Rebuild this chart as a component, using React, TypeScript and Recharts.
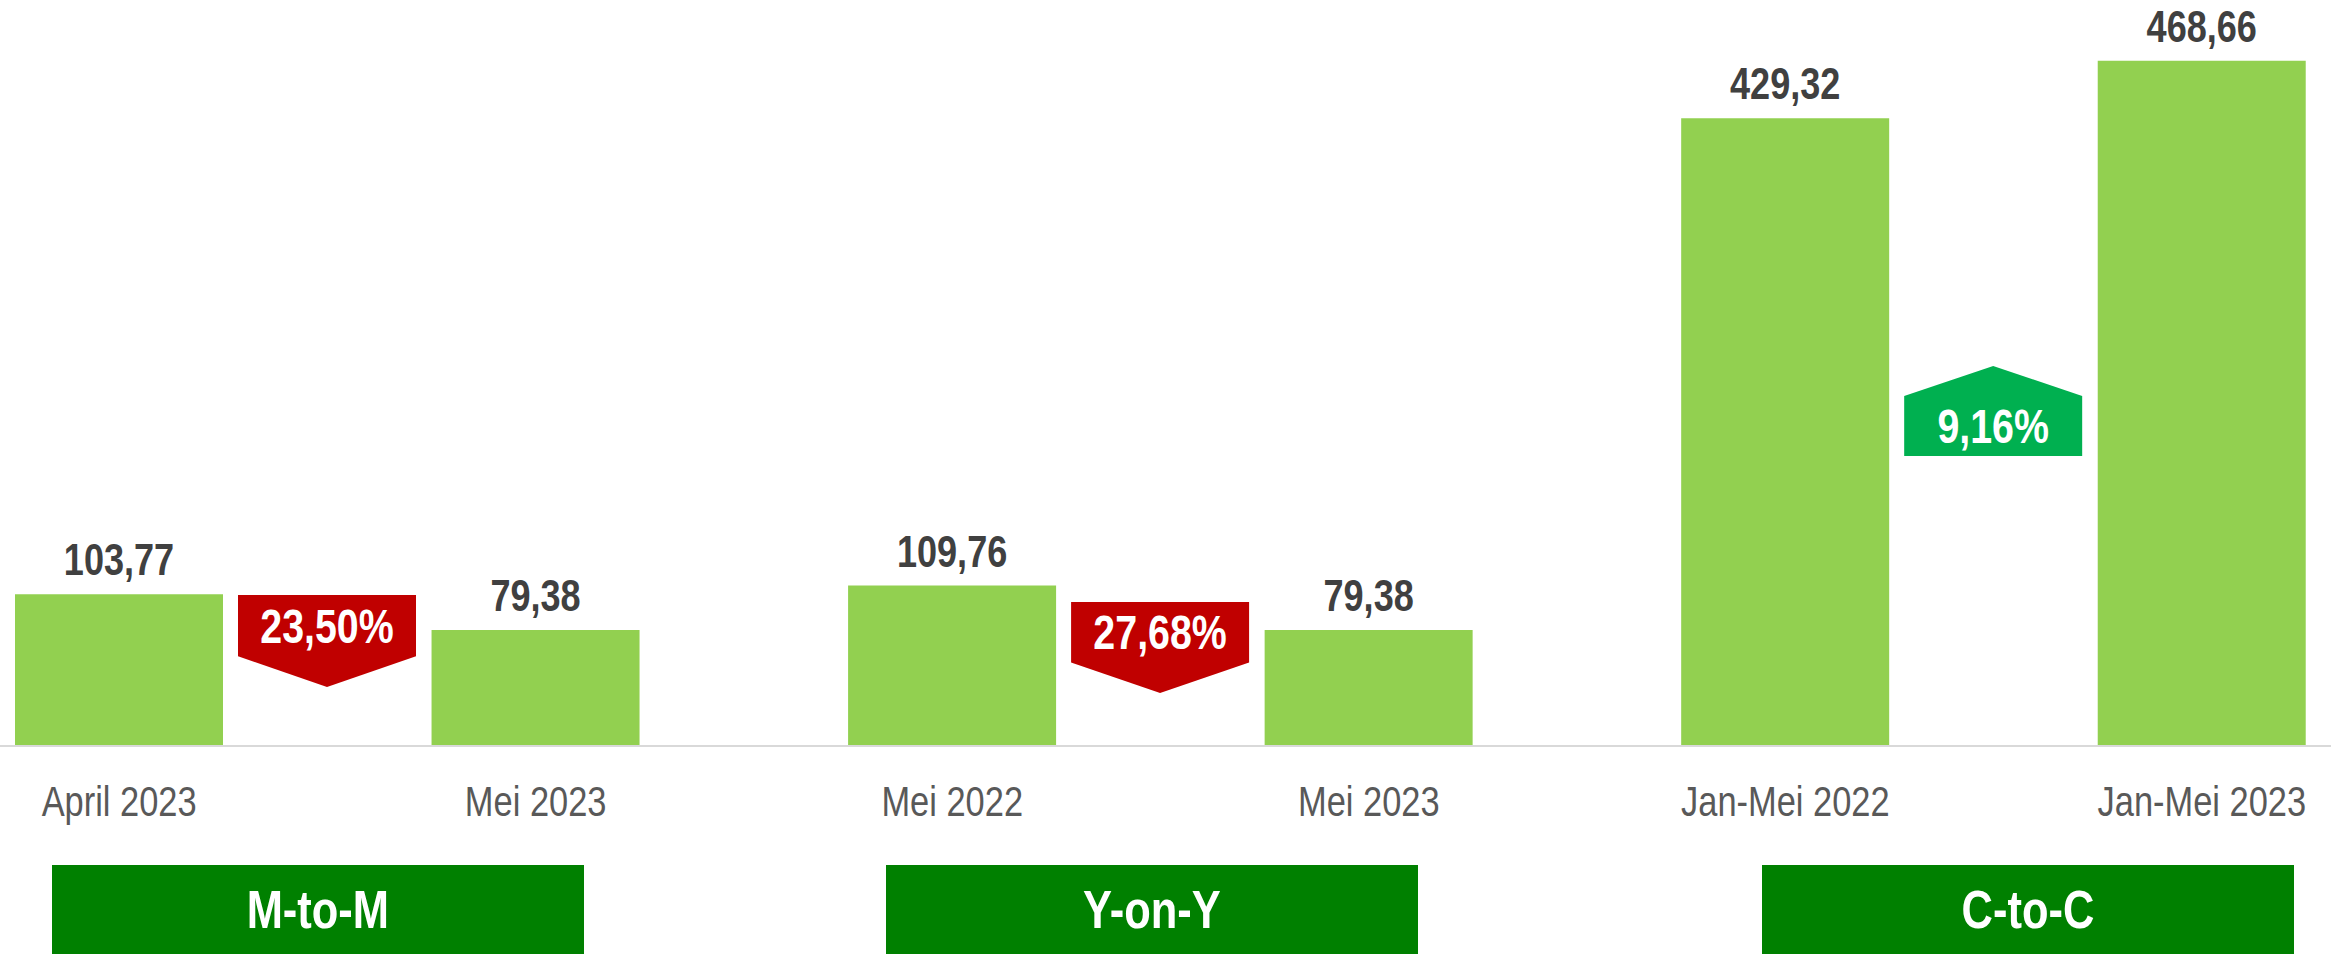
import React from "react";
import { BarChart, Bar, XAxis, YAxis, LabelList } from "recharts";

const categories = ["April 2023", "", "Mei 2023", "", "Mei 2022", "", "Mei 2023", "", "Jan-Mei 2022", "", "Jan-Mei 2023"];
const values = [103.77, null, 79.38, null, 109.76, null, 79.38, null, 429.32, null, 468.66];
// change badges sit in the gap columns (value range they span on the y axis)
const arrowLow = [null, 40.4, null, null, null, 36.3, null, null, null, 198.4, null];
const arrowHigh = [null, 103.3, null, null, null, 98.5, null, null, null, 260, null];
const changeText = [null, "23,50%", null, null, null, "27,68%", null, null, null, "9,16%", null];
const changeDir = [null, "down", null, null, null, "down", null, null, null, "up", null];
const groups = ["M-to-M", "Y-on-Y", "C-to-C"];
const groupLeft = [52, 886, 1762];

// no Arial Narrow here, so squeeze Liberation Sans horizontally
const FONT = '"Liberation Sans", Arial, sans-serif';
const NARROW = 0.82;

const data = categories.map((c, i) => ({
  cat: c,
  value: values[i],
  arrow: arrowLow[i] == null ? null : [arrowLow[i], arrowHigh[i]],
  text: changeText[i],
  dir: changeDir[i],
}));

const fmt = (v: any) => (v == null ? "" : Number(v).toFixed(2).replace(".", ","));

function NarrowText({ x, y, children, ...rest }: any) {
  return (
    <text transform={`translate(${x},${y}) scale(${NARROW},1)`} textAnchor="middle" fontFamily={FONT} {...rest}>
      {children}
    </text>
  );
}

function CatTick(props: any) {
  const { x, y, payload } = props;
  if (!payload.value) return null;
  return (
    <NarrowText x={x} y={y + 62} fill="#595959" fontSize={42}>
      {payload.value}
    </NarrowText>
  );
}

function ValueLabel(props: any) {
  const { x, y, width, value } = props;
  if (value == null) return null;
  return (
    <NarrowText x={x + width / 2} y={y - 19} fill="#404040" fontSize={44} fontWeight="bold">
      {fmt(value)}
    </NarrowText>
  );
}

function ArrowShape(props: any) {
  const { x, y, width, height, payload } = props;
  if (!payload || payload.arrow == null) return null;
  const inset = 15;
  const l = x + inset;
  const r = x + width - inset;
  const cx = (l + r) / 2;
  const tri = height / 3;
  let d: string;
  let rectTop: number;
  let rectBottom: number;
  if (payload.dir === "down") {
    rectTop = y;
    rectBottom = y + height - tri;
    d = `M${l},${rectTop} L${r},${rectTop} L${r},${rectBottom} L${cx},${y + height} L${l},${rectBottom} Z`;
  } else {
    rectTop = y + tri;
    rectBottom = y + height;
    d = `M${cx},${y} L${r},${rectTop} L${r},${rectBottom} L${l},${rectBottom} L${l},${rectTop} Z`;
  }
  const fill = payload.dir === "down" ? "#C00000" : "#00B050";
  return (
    <g>
      <path d={d} fill={fill} />
      <NarrowText x={cx} y={(rectTop + rectBottom) / 2 + 17} fill="#fff" fontWeight="bold" fontSize={48}>
        {payload.text}
      </NarrowText>
    </g>
  );
}

export default function App() {
  return (
    <div style={{ position: "absolute", left: 0, top: 0, width: 2331, height: 954, background: "#fff", fontFamily: FONT }}>
      <BarChart
        width={2331}
        height={954}
        data={data}
        margin={{ top: 15, right: 0, bottom: 108, left: 0 }}
        barCategoryGap={0}
        barGap="-100%"
      >
        <XAxis
          dataKey="cat"
          height={100}
          padding={{ left: 15, right: 25 }}
          axisLine={{ stroke: "#d9d9d9", strokeWidth: 2 }}
          tickLine={false}
          interval={0}
          tick={<CatTick />}
        />
        <YAxis hide domain={[0, 500]} />
        <Bar dataKey="value" fill="#92D050" isAnimationActive={false}>
          <LabelList dataKey="value" content={<ValueLabel />} />
        </Bar>
        <Bar dataKey="arrow" shape={<ArrowShape />} isAnimationActive={false} />
      </BarChart>
      {groups.map((g, i) => (
        <div
          key={g}
          style={{
            position: "absolute",
            left: groupLeft[i],
            top: 865,
            width: 532,
            height: 89,
            background: "#008000",
            color: "#fff",
            fontWeight: "bold",
            fontSize: 53,
            display: "flex",
            alignItems: "center",
            justifyContent: "center",
          }}
        >
          <span style={{ display: "inline-block", transform: `scaleX(${NARROW})` }}>{g}</span>
        </div>
      ))}
    </div>
  );
}
